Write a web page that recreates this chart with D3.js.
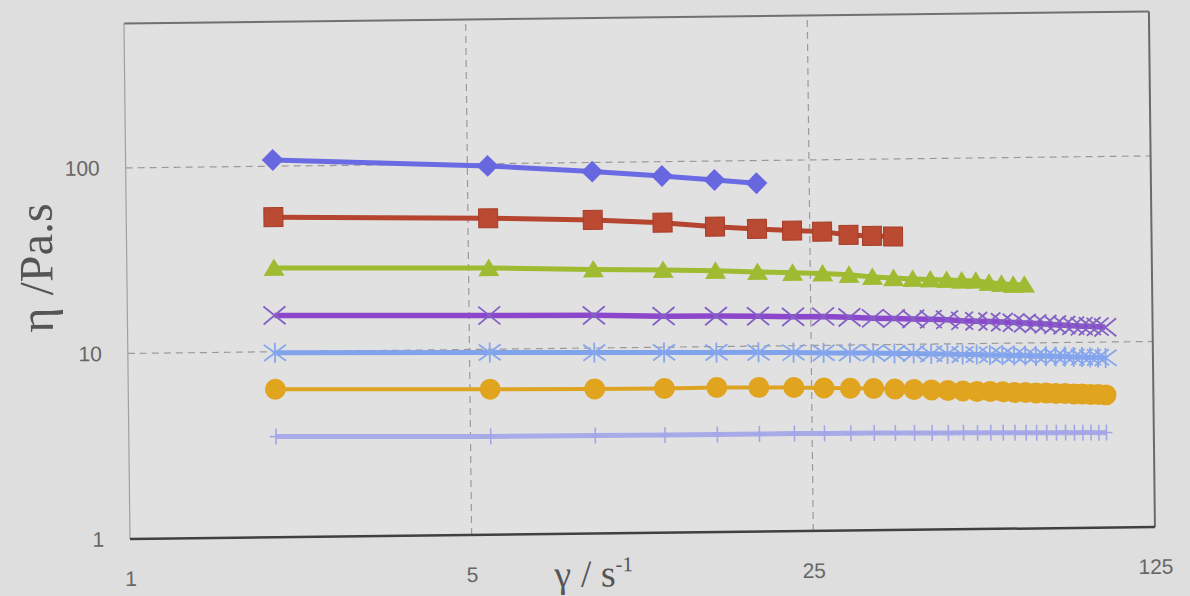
<!DOCTYPE html>
<html>
<head>
<meta charset="utf-8">
<script src="https://cdn.jsdelivr.net/npm/d3@7/dist/d3.min.js"></script>
<style>
  html, body { margin: 0; padding: 0; background: #dedede; }
  svg { display: block; }
</style>
</head>
<body>
<svg id="chart" width="1190" height="596"></svg>
<script>
// Shear rates (s^-1) shared by every flow curve
const shearRate = [2, 5.5, 9, 12.5, 16, 19.5, 23, 26.5, 30, 33.5, 37, 40.5, 44, 47.5, 51,
  54.5, 58, 61.5, 65, 68.5, 72, 75.5, 79, 82.5, 86, 89.5, 93, 96.5, 100];

// Viscosity (Pa.s) of each sample
const etaDiamond = [108, 97.3, 89.3, 83.7, 79.1, 75.5];
const etaSquare = [53.1, 50.8, 49.0, 46.9, 44.3, 42.8, 41.7, 41.0, 39.2, 38.6, 38.2];
const etaTriangle = [28.3, 27.4, 26.5, 26.1, 25.6, 25.1, 24.7, 24.4, 23.9, 23.2, 22.8, 22.5,
  22.3, 22.1, 21.9, 21.8, 21.2, 20.9, 20.6, 20.6];
const etaCross = [15.7, 15.2, 15.0, 14.7, 14.6, 14.5, 14.3, 14.3, 14.1, 13.9, 13.8, 13.7, 13.6,
  13.5, 13.3, 13.2, 13.1, 13.0, 12.9, 12.8, 12.7, 12.6, 12.5, 12.4, 12.3, 12.2, 12.2, 12.1, 12.0];
const etaStar = [9.86, 9.61, 9.45, 9.37, 9.30, 9.25, 9.19, 9.10, 9.07, 9.03, 8.95, 8.93, 8.85,
  8.83, 8.74, 8.73, 8.66, 8.65, 8.58, 8.56, 8.50, 8.49, 8.42, 8.41, 8.34, 8.33, 8.27, 8.27, 8.21];
const etaCircle = [6.28, 6.09, 6.02, 5.99, 6.02, 5.99, 5.95, 5.89, 5.85, 5.81, 5.75, 5.71, 5.66,
  5.61, 5.56, 5.52, 5.51, 5.47, 5.42, 5.41, 5.37, 5.36, 5.32, 5.31, 5.27, 5.26, 5.22, 5.22, 5.19];
const etaPlus = [3.49, 3.39, 3.38, 3.36, 3.36, 3.36, 3.36, 3.35, 3.35, 3.34, 3.33, 3.33, 3.32,
  3.31, 3.31, 3.30, 3.30, 3.29, 3.29, 3.28, 3.28, 3.27, 3.27, 3.27, 3.26, 3.26, 3.26, 3.25, 3.25];

// Axis ticks
const xTicks = [1, 5, 25, 125];
const yTicks = [1, 10, 100];

// ---- layout ----
const W = 1025, H = 515.5;
const svg = d3.select("#chart");
const g = svg.append("g").attr("transform", "translate(130,539) rotate(-0.67)");

const x = d3.scaleLog().base(5).domain([1, 125]).range([0, W]);
const y = d3.scaleLog().domain([1, 600]).range([0, -H]);

// plot background
g.append("rect").attr("x", 0).attr("y", -H).attr("width", W).attr("height", H)
  .attr("fill", "#e1e1e1");

// dashed grid
g.append("g").selectAll("line").data([5, 25]).join("line")
  .attr("x1", d => x(d)).attr("x2", d => x(d)).attr("y1", 0).attr("y2", -H)
  .attr("stroke", "#9a9a9a").attr("stroke-width", 1.2).attr("stroke-dasharray", "7,5");
g.append("g").selectAll("line").data([10, 100]).join("line")
  .attr("x1", 0).attr("x2", W).attr("y1", d => y(d)).attr("y2", d => y(d))
  .attr("stroke", "#9a9a9a").attr("stroke-width", 1.2).attr("stroke-dasharray", "7,5");

// frame
g.append("line").attr("x1", 0).attr("x2", W).attr("y1", -H).attr("y2", -H)
  .attr("stroke", "#707070").attr("stroke-width", 2);
g.append("line").attr("x1", W).attr("x2", W).attr("y1", -H).attr("y2", 0)
  .attr("stroke", "#6a6a6a").attr("stroke-width", 2);
g.append("line").attr("x1", 0).attr("x2", 0).attr("y1", -H).attr("y2", 0)
  .attr("stroke", "#a0a0a0").attr("stroke-width", 1.2);
g.append("line").attr("x1", 0).attr("x2", W).attr("y1", 0).attr("y2", 0)
  .attr("stroke", "#404040").attr("stroke-width", 2.5);

// axes (labels only)
const fmt = d3.format("d");
const xAxis = g.append("g").call(d3.axisBottom(x).tickValues(xTicks).tickFormat(fmt)
  .tickSize(0).tickPadding(32));
const yAxis = g.append("g").call(d3.axisLeft(y).tickValues(yTicks).tickFormat(fmt)
  .tickSize(0).tickPadding(26));
[xAxis, yAxis].forEach(a => {
  a.select(".domain").remove();
  a.selectAll("text").attr("fill", "#666").style("font-family", "Liberation Sans, Arial, sans-serif")
    .style("font-size", "21px");
});

// axis titles
g.append("text").attr("x", 424).attr("y", 53)
  .style("font-family", "Liberation Serif, Times New Roman, serif").style("font-size", "38px")
  .attr("fill", "#555")
  .call(t => {
    t.append("tspan").text("γ / s");
    t.append("tspan").attr("dy", -15).style("font-size", "21px").text("-1");
  });
g.append("text").attr("transform", "translate(-91,-272) rotate(-90)")
  .attr("text-anchor", "middle").attr("dominant-baseline", "central")
  .style("font-family", "Liberation Serif, Times New Roman, serif").style("font-size", "48px")
  .attr("fill", "#555").text("η /Pa.s");

// marker shapes
const shapes = {
  diamond: d3.symbol(d3.symbolSquare, 240)(),
  square: "M-9.5,-9.5H9.5V9.5H-9.5Z",
  triangle: "M0,-9.5L10.5,8H-10.5Z",
  circle: d3.symbol(d3.symbolCircle, Math.PI * 110)(),
  cross: "M-11,-9L11,9M-11,9L11,-9",
  star: "M-11,-8L11,8M-11,8L11,-8M0,-10V10",
  plus: "M0,-8V8M-6,0H6"
};

const series = [
  { values: etaPlus, line: "#a9abe8", lw: 5, shape: "plus", fill: "none", stroke: "#a3a6e6", sw: 1.6 },
  { values: etaCircle, line: "#dea322", lw: 4, shape: "circle", fill: "#e0a41f", stroke: "none", sw: 0 },
  { values: etaStar, line: "#80a3ec", lw: 5, shape: "star", fill: "none", stroke: "#86a6ee", sw: 1.8 },
  { values: etaCross, line: "#8c48cc", lw: 5.5, shape: "cross", fill: "none", stroke: "#8461c4", sw: 1.8 },
  { values: etaTriangle, line: "#9fbb31", lw: 5, shape: "triangle", fill: "#9fbb31", stroke: "none", sw: 0 },
  { values: etaSquare, line: "#b5452f", lw: 5, shape: "square", fill: "#bb4a32", stroke: "#a63c26", sw: 1 },
  { values: etaDiamond, line: "#6a6ae4", lw: 5, shape: "diamond", fill: "#6767e0", stroke: "none", sw: 0 }
];

const line = d3.line().x(d => x(d.x)).y(d => y(d.y));

series.forEach(s => {
  const pts = s.values.map((v, i) => ({ x: shearRate[i], y: v }));
  const sg = g.append("g");
  sg.append("path").datum(pts).attr("d", line).attr("fill", "none")
    .attr("stroke", s.line).attr("stroke-width", s.lw).attr("stroke-linejoin", "round");
  sg.selectAll("path.m").data(pts).join("path").attr("class", "m")
    .attr("d", shapes[s.shape])
    .attr("transform", d => `translate(${x(d.x)},${y(d.y)})` + (s.shape === "diamond" ? " rotate(45)" : ""))
    .attr("fill", s.fill).attr("stroke", s.stroke).attr("stroke-width", s.sw);
});
</script>
</body>
</html>
